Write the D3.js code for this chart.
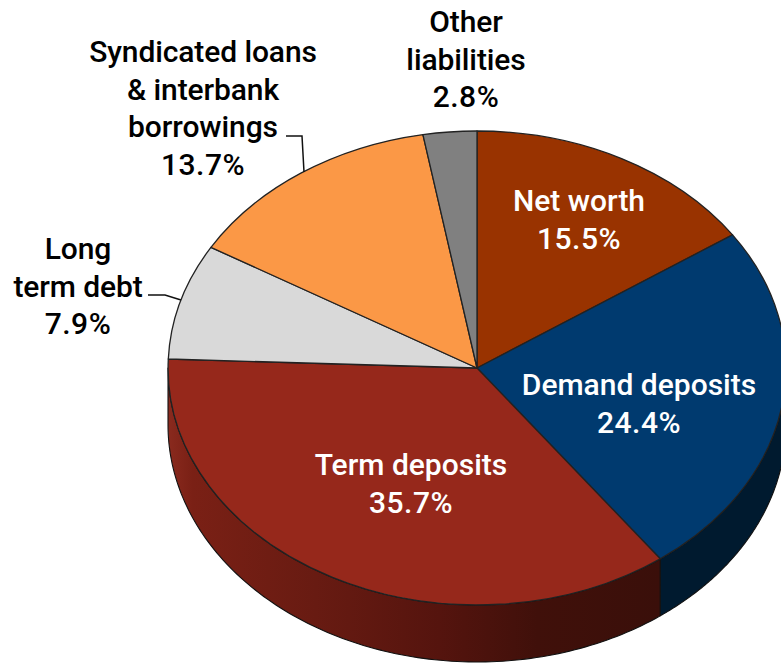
<!DOCTYPE html>
<html>
<head>
<meta charset="utf-8">
<script src="https://cdn.jsdelivr.net/npm/d3@7/dist/d3.min.js"></script>
<style>
html,body{margin:0;padding:0;background:#fff;overflow:hidden}
svg{display:block}
text{font-family:Roboto,sans-serif;text-anchor:middle}
</style>
</head>
<body>
<svg id="chart" width="781" height="663"></svg>
<script>
// Liabilities mix, clockwise from twelve o'clock
const shares = [15.5,24.4,35.7,7.9,13.7,2.8];
const topColors = ["#993300","#003a6f","#96281b","#d9d9d9","#fb9846","#808080"];
const wallColors = ["#4d1900","#001a2f","url(#wallRed)","#6d6d6d","#7d4c23","#404040"];
const labelLines = [
  ["Net worth","15.5%"],
  ["Demand deposits","24.4%"],
  ["Term deposits","35.7%"],
  ["Long","term debt","7.9%"],
  ["Syndicated loans","& interbank","borrowings","13.7%"],
  ["Other","liabilities","2.8%"]
];
const labelAnchors = [[579,211],[639,395],[411,475],[78,259],[203,62],[466,32]];
const labelColors = ["#fff","#fff","#fff","#000","#000","#000"];
const leaders = [null,null,null,[[148,295],[165,295],[181,300]],[[286,136],[302,136],[304,172]],null];

const cx = 477, cy = 368, rx = 309, ry = 237, depth = 57;
const lineGap = 37.7;
const svg = d3.select("#chart");

const gradient = svg.append("defs").append("linearGradient")
  .attr("id","wallRed").attr("gradientUnits","userSpaceOnUse")
  .attr("x1",cx-rx).attr("x2",660).attr("y1",0).attr("y2",0);
[[0,"#8a2a1e"],[0.05,"#7a2015"],[0.3,"#681b12"],[0.55,"#55140e"],[0.75,"#40100a"],[1,"#3a0f0a"]]
  .forEach(([o,c]) => gradient.append("stop").attr("offset",o).attr("stop-color",c));

const pie = d3.pie().sort(null).value(d => d);
const slices = pie(shares);
const px = d3.scaleLinear().domain([-1,1]).range([cx-rx,cx+rx]);
const py = d3.scaleLinear().domain([-1,1]).range([cy-ry,cy+ry]);

// Cylinder wall: only the part of each slice facing the viewer
const wall = d3.area()
  .x(a => px(Math.sin(a)))
  .y0(a => py(-Math.cos(a)))
  .y1(a => py(-Math.cos(a))+depth);
slices.forEach((s,i) => {
  const a0 = Math.max(s.startAngle,Math.PI/2), a1 = Math.min(s.endAngle,Math.PI*1.5);
  if (a1 <= a0) return;
  const angles = d3.range(0,121).map(k => a0+(a1-a0)*k/120);
  svg.append("path").attr("d",wall(angles))
    .attr("fill",wallColors[i]).attr("stroke","#111").attr("stroke-width",1.1).attr("stroke-linejoin","round");
});

// Top face: a circular pie flattened into an ellipse
const arc = d3.arc().innerRadius(0).outerRadius(1);
const topFace = svg.append("g").attr("transform",`translate(${cx},${cy}) scale(${rx},${ry})`);
topFace.selectAll("path").data(slices).join("path")
  .attr("d",arc)
  .attr("fill",(d,i) => topColors[i])
  .attr("stroke","#222").attr("stroke-width",1.3)
  .attr("vector-effect","non-scaling-stroke").attr("stroke-linejoin","round");

// Leader lines for the slices labelled outside the pie
const leaderLine = d3.line();
leaders.forEach(l => {
  if (l) svg.append("path").attr("d",leaderLine(l)).attr("fill","none").attr("stroke","#111").attr("stroke-width",1.5);
});

// Labels: percentages are set slightly looser than the names
labelLines.forEach((lines,i) => {
  const t = svg.append("text").attr("font-size",30).attr("font-weight",500).attr("fill",labelColors[i]);
  lines.forEach((line,k) => {
    const isShare = line.endsWith("%");
    const spacing = isShare ? 0.5 : (labelColors[i] === "#000" ? -0.1 : 0);
    t.append("tspan").attr("x",labelAnchors[i][0]).attr("y",labelAnchors[i][1]+k*lineGap)
      .attr("letter-spacing",spacing).text(line);
  });
});
</script>
</body>
</html>
